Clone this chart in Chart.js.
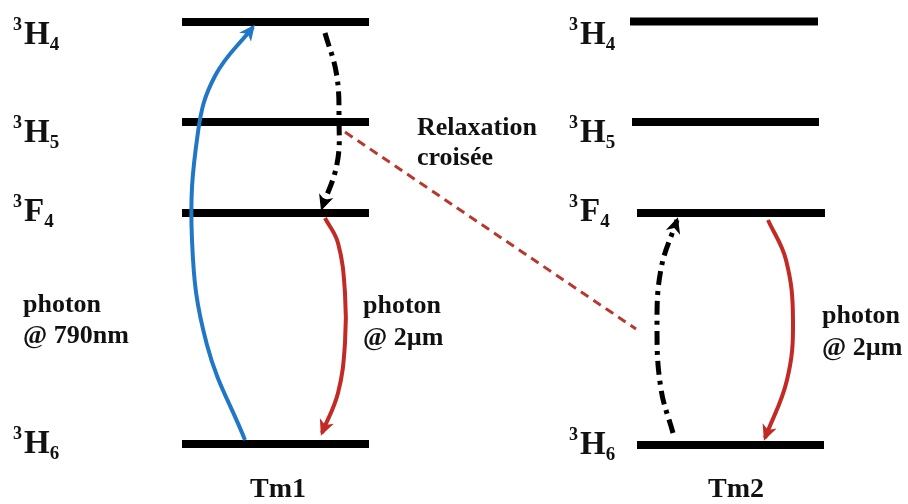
<!DOCTYPE html>
<html>
<head>
<meta charset="utf-8">
<script src="https://cdn.jsdelivr.net/npm/chart.js@4"></script>
<style>
  html, body { margin: 0; padding: 0; background: #fff; }
  #wrap { width: 908px; height: 504px; }
</style>
</head>
<body>
<div id="wrap"><canvas id="chart"></canvas></div>
<script>
// energy levels, diagram units (3H6 = 0)
const levelNames = ['3H6', '3F4', '3H5', '3H4'];
const tm1Energy = [0, 23.1, 32.2, 42.2];
const tm2Energy = [-0.1, 23.1, 32.2, 42.25];
const tm1Start = [182, 182, 182, 182];
const tm1End = [369, 369, 369, 369];
const tm2Start = [637, 637, 632, 630];
const tm2End = [824, 825, 819, 818];

// transitions: [x, energy] waypoints
const pumpTm1 = [[245, 0.4], [207, 9.9], [192, 20.4], [198, 31.2], [215, 36.8], [253, 41.7]];
const decayTm1 = [[325, 41.1], [336.5, 37], [339, 32.5], [337, 28], [322, 23.6]];
const emitTm1 = [[325, 22.6], [338, 20.1], [345, 15.1], [345, 10.1], [338, 5.1], [322, 1.1]];
const crossRelax = [[345, 31.2], [636, 11.5]];
const upTm2 = [[673, 1.1], [661, 5.5], [657, 11.5], [661, 17.5], [677, 22.4]];
const emitTm2 = [[768, 22.4], [786, 18.4], [793, 12.4], [787, 6.4], [765, 0.6]];

const BLUE = '#1f77c6';
const RED = '#c22a26';
const SERIF = '"Liberation Serif", "Times New Roman", serif';

const toPts = arr => arr.map(p => ({ x: p[0], y: p[1] }));

function levelSets(energy, start, end) {
    return energy.map((e, i) => ({
        data: [{ x: start[i], y: e }, { x: end[i], y: e }],
        borderColor: '#000',
        borderWidth: 8,
        borderCapStyle: 'butt',
        pointRadius: 0,
        order: 2
    }));
}

function arrowSet(points, color, width, dash, head) {
    return {
        data: toPts(points),
        borderColor: color,
        borderWidth: width,
        borderDash: dash,
        borderCapStyle: 'butt',
        tension: 0.4,
        pointRadius: 0,
        arrowHead: head,
        order: 1
    };
}

const DASHDOT = [14, 6, 4, 6];

const datasets = [
    ...levelSets(tm1Energy, tm1Start, tm1End),
    ...levelSets(tm2Energy, tm2Start, tm2End),
    arrowSet(crossRelax, '#b8382e', 3, [9, 6], false),
    arrowSet(pumpTm1, BLUE, 4, [], true),
    arrowSet(decayTm1, '#000', 5, DASHDOT, true),
    arrowSet(emitTm1, RED, 4, [], true),
    arrowSet(upTm2, '#000', 5, DASHDOT, true),
    arrowSet(emitTm2, RED, 4, [], true)
];

// arrow head along the tangent at the last point
const arrowHeads = {
    id: 'arrowHeads',
    afterDatasetsDraw(chart) {
        const ctx = chart.ctx;
        chart.data.datasets.forEach((ds, i) => {
            if (!ds.arrowHead) return;
            const pts = chart.getDatasetMeta(i).data;
            const last = pts[pts.length - 1];
            let fx = last.cp1x, fy = last.cp1y;
            if (fx === undefined || Math.hypot(last.x - fx, last.y - fy) < 1) {
                fx = pts[pts.length - 2].x;
                fy = pts[pts.length - 2].y;
            }
            const dx = last.x - fx, dy = last.y - fy;
            const len = Math.hypot(dx, dy);
            const ux = dx / len, uy = dy / len;
            const tipX = last.x + ux * 3, tipY = last.y + uy * 3;
            const L = 16, W = 7.5;
            ctx.save();
            ctx.fillStyle = ds.borderColor;
            ctx.beginPath();
            ctx.moveTo(tipX, tipY);
            ctx.lineTo(tipX - ux * L - uy * W, tipY - uy * L + ux * W);
            ctx.lineTo(tipX - ux * L * 0.72, tipY - uy * L * 0.72);
            ctx.lineTo(tipX - ux * L + uy * W, tipY - uy * L - ux * W);
            ctx.closePath();
            ctx.fill();
            ctx.restore();
        });
    }
};

function levelLabel(ctx, x, base, name) {
    ctx.font = 'bold 18px ' + SERIF;
    ctx.fillText(name[0], x, base - 14);
    const w1 = ctx.measureText(name[0]).width + 2;
    ctx.font = 'bold 33px ' + SERIF;
    ctx.fillText(name[1], x + w1, base);
    const w2 = ctx.measureText(name[1]).width;
    ctx.font = 'bold 19px ' + SERIF;
    ctx.fillText(name[2], x + w1 + w2, base + 6);
}

const textLabels = {
    id: 'textLabels',
    afterDraw(chart) {
        const ctx = chart.ctx;
        const y = chart.scales.y;
        const labelDrop = [9, 8, 20, 22];
        ctx.save();
        ctx.fillStyle = '#111';
        ctx.textBaseline = 'alphabetic';
        ctx.textAlign = 'left';
        levelNames.forEach((n, i) => {
            levelLabel(ctx, 13, y.getPixelForValue(tm1Energy[i]) + labelDrop[i], n);
            levelLabel(ctx, 569, y.getPixelForValue(tm2Energy[i]) + labelDrop[i], n);
        });

        ctx.font = 'bold 26px ' + SERIF;
        ctx.fillText('Relaxation', 417, 135);
        ctx.fillText('croisée', 417, 165);
        ctx.fillText('photon', 23, 312);
        ctx.fillText('@ 790nm', 23, 343);
        ctx.fillText('photon', 363, 313);
        ctx.fillText('@ 2µm', 363, 345);
        ctx.fillText('photon', 822, 323);
        ctx.fillText('@ 2µm', 822, 355);

        ctx.font = 'bold 28px ' + SERIF;
        ctx.textAlign = 'center';
        ctx.fillText('Tm1', 278, 497);
        ctx.fillText('Tm2', 736, 497);
        ctx.restore();
    }
};

new Chart(document.getElementById('chart'), {
    type: 'scatter',
    data: { datasets },
    options: {
        responsive: true,
        maintainAspectRatio: false,
        animation: false,
        showLine: true,
        layout: { padding: 0 },
        plugins: { legend: { display: false }, tooltip: { enabled: false } },
        scales: {
            x: { type: 'linear', display: false, min: 0, max: 908 },
            y: { type: 'linear', display: false, min: -6, max: 44.4 }
        }
    },
    plugins: [arrowHeads, textLabels]
});
</script>
</body>
</html>
